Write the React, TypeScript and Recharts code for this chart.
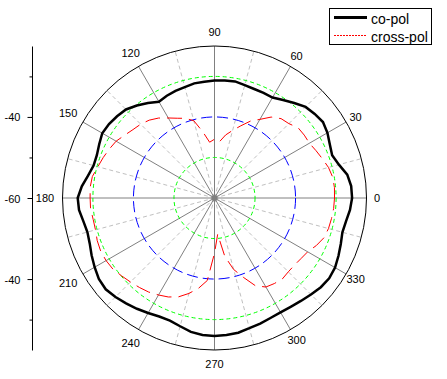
import React from 'react';
import {
  RadarChart,
  Radar,
  PolarGrid,
  PolarAngleAxis,
  PolarRadiusAxis,
  Legend,
  LineChart,
  YAxis,
} from 'recharts';

const ANGLES = [
  0, 5, 10, 15, 20, 25, 30, 35, 40, 45, 50, 55, 60, 65, 70, 75, 80, 85,
  90, 95, 100, 105, 110, 115, 120, 125, 130, 135, 140, 145, 150, 155, 160, 165, 170, 175,
  180, 185, 190, 195, 200, 205, 210, 215, 220, 225, 230, 235, 240, 245, 250, 255, 260, 265,
  270, 275, 280, 285, 290, 295, 300, 305, 310, 315, 320, 325, 330, 335, 340, 345, 350, 355,
];

const CO_POL = [
  -25.6, -25.7, -26.3, -27.8, -28.7, -28.2, -27.4, -26.9, -27.3, -27.8, -29.0, -30.1, -31.0, -31.0, -31.0, -30.8, -30.4, -30.5,
  -30.6, -30.8, -30.9, -31.3, -31.5, -31.8, -32.2, -31.0, -29.8, -28.7, -28.2, -27.8, -27.6, -28.2, -28.7, -28.7, -27.9, -26.7,
  -25.8, -26.0, -26.7, -27.1, -26.8, -26.1, -25.4, -24.7, -24.5, -25.0, -25.6, -26.2, -26.8, -27.3, -27.4, -26.8, -26.0, -25.6,
  -25.5, -25.6, -25.8, -26.3, -26.6, -26.9, -27.0, -26.8, -26.4, -25.9, -25.3, -25.0, -25.2, -25.8, -26.4, -26.9, -26.6, -26.0,
];

const CROSS_POL = [
  -30.0, -29.9, -30.0, -30.5, -31.3, -32.0, -32.6, -32.6, -32.7, -33.7, -34.1, -35.3, -37.3, -38.8, -40.8, -42.5, -44.0, -45.9,
  -45.3, -46.0, -43.2, -40.0, -38.8, -38.0, -36.9, -35.6, -34.6, -33.9, -33.4, -32.6, -31.6, -31.0, -30.4, -29.8, -29.0, -28.8,
  -28.9, -28.9, -29.2, -29.2, -28.8, -28.6, -28.7, -29.0, -29.7, -30.3, -30.8, -31.3, -32.0, -32.7, -33.7, -35.3, -37.1, -39.3,
  -46.2, -50.9, -45.2, -41.5, -38.9, -35.8, -34.3, -33.9, -33.6, -33.9, -33.9, -33.6, -33.1, -31.9, -30.9, -30.5, -30.3, -30.1,
];

const ANGLE_TICKS = [0, 30, 60, 90, 120, 150, 180, 210, 240, 270, 300, 330];
const MINOR_SPOKES = [15, 45, 75, 105, 135, 165, 195, 225, 255, 285, 315, 345];
const GREEN_RINGS = [-50, -30];
const BLUE_RINGS = [-40];
// left scale is mirrored round the centre value (-60)
const SIDE_TICKS = [-90, -80, -70, -60, -50, -40, -30];
const SIDE_LABELS = [-80, -60, -40];

const W = 447;
const H = 379;
const CX = 214.5;
const CY = 198;
const R = 152;
const R_MIN = -60;
const R_MAX = -22.5;
const FONT = 'Arial, "Liberation Sans", sans-serif';

const data = ANGLES.map((angle, i) => ({ angle, co: CO_POL[i], cross: CROSS_POL[i] }));

const ringPx = (v: number) => ((v - R_MIN) / (R_MAX - R_MIN)) * R;

const AngleTick = (props: any) => {
  const { payload } = props;
  const a = payload.coordinate ?? payload.value;
  const rad = (a * Math.PI) / 180;
  const r = 166 - 3.5 * Math.cos(rad);
  return (
    <text
      x={CX + r * Math.cos(rad)}
      y={CY - r * Math.sin(rad)}
      textAnchor="middle"
      dominantBaseline="central"
      fontSize={11}
      fontFamily={FONT}
      fill="#000"
    >
      {payload.value}
    </text>
  );
};

const SideTick = (props: any) => {
  const { x, y, payload } = props;
  const v = payload.value;
  const major = SIDE_LABELS.includes(v);
  return (
    <g>
      <line x1={x - (major ? 5 : 3)} x2={x} y1={y} y2={y} stroke="#000" />
      {major && (
        <text
          x={x - 12}
          y={y}
          textAnchor="end"
          dominantBaseline="central"
          fontSize={11}
          fontFamily={FONT}
          fill="#000"
        >
          {R_MIN + Math.abs(v - R_MIN)}
        </text>
      )}
    </g>
  );
};

const LEGEND_ITEMS = [
  { key: 'co', label: 'co-pol', color: '#000000', width: 2.5, dash: undefined as string | undefined },
  { key: 'cross', label: 'cross-pol', color: '#ff0000', width: 1, dash: '2 1' },
];

const LegendBox = () => (
  <svg width={103} height={37} style={{ display: 'block' }}>
    <rect x={0.5} y={0.5} width={102} height={36} fill="#fff" stroke="#000" />
    {LEGEND_ITEMS.map((item, i) => {
      const y = 9.5 + i * 18;
      return (
        <g key={item.key}>
          <line
            x1={5}
            x2={38}
            y1={y}
            y2={y}
            style={{ stroke: item.color }}
            strokeWidth={item.width}
            strokeDasharray={item.dash}
            shapeRendering="crispEdges"
          />
          <text x={42} y={y + 1} dominantBaseline="central" fontSize={14} fontFamily={FONT} fill="#000">
            {item.label}
          </text>
        </g>
      );
    })}
  </svg>
);

const App: React.FC = () => {
  return (
    <div style={{ position: 'absolute', left: 0, top: 0, width: W, height: H, background: '#fff' }}>
      <div style={{ position: 'absolute', left: 0, top: 0 }}>
        <LineChart width={W} height={H} data={[]} margin={{ top: 46.5, right: 0, bottom: 28.5, left: 0 }}>
          <YAxis
            type="number"
            domain={[-97.5, -22.5]}
            ticks={SIDE_TICKS}
            interval={0}
            allowDataOverflow
            width={32.5}
            tickSize={0}
            tickMargin={0}
            tickLine={false}
            axisLine={{ stroke: '#000' }}
            tick={<SideTick />}
          />
        </LineChart>
      </div>
      <div style={{ position: 'absolute', left: 0, top: 0 }}>
        <RadarChart
          width={W}
          height={H}
          data={data}
          cx={CX}
          cy={CY}
          innerRadius={0}
          outerRadius={R}
          startAngle={0}
          endAngle={360}
          margin={{ top: 0, right: 0, bottom: 0, left: 0 }}
        >
          <PolarGrid gridType="circle" polarAngles={MINOR_SPOKES} polarRadius={[0]} stroke="#c0c0c0" strokeDasharray="4 3" />
          <PolarGrid gridType="circle" polarAngles={ANGLE_TICKS} polarRadius={[1.5]} stroke="#808080" strokeWidth={1} />
          <PolarGrid gridType="circle" radialLines={false} polarAngles={[0]} polarRadius={[1.5]} stroke="#808080" strokeWidth={3} />
          <PolarGrid
            gridType="circle"
            radialLines={false}
            polarAngles={[0]}
            polarRadius={GREEN_RINGS.map(ringPx)}
            stroke="#00ff00"
            strokeDasharray="4 3"
          />
          <PolarGrid
            gridType="circle"
            radialLines={false}
            polarAngles={[0]}
            polarRadius={BLUE_RINGS.map(ringPx)}
            stroke="#0000ff"
            strokeDasharray="11 5"
          />
          <PolarAngleAxis
            dataKey="angle"
            type="number"
            domain={[0, 360]}
            ticks={ANGLE_TICKS}
            allowDataOverflow
            axisLineType="circle"
            axisLine={{ stroke: '#000' }}
            tickLine={false}
            tick={<AngleTick />}
          />
          <PolarRadiusAxis type="number" domain={[R_MIN, R_MAX]} allowDataOverflow tick={false} axisLine={false} />
          <Radar
            name="co-pol"
            dataKey="co"
            stroke="#000"
            strokeWidth={2.5}
            fill="none"
            fillOpacity={0}
            dot={false}
            isAnimationActive={false}
          />
          <Radar
            name="cross-pol"
            dataKey="cross"
            stroke="#ff0000"
            strokeDasharray="15 7"
            fill="none"
            fillOpacity={0}
            dot={false}
            isAnimationActive={false}
          />
          <Legend
            content={<LegendBox />}
            wrapperStyle={{ position: 'absolute', left: 329, top: 8, width: 103, height: 37 }}
          />
        </RadarChart>
      </div>
    </div>
  );
};

export default App;
